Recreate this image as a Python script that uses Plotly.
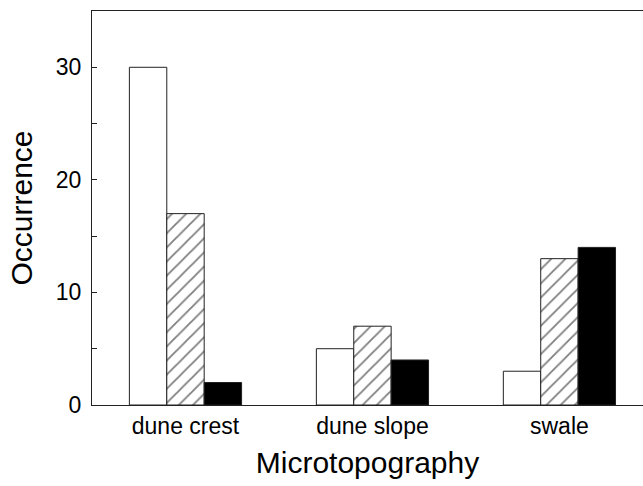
import plotly.graph_objects as go

categories = ["dune crest", "dune slope", "swale"]
open_vals = [30, 5, 3]
hatched_vals = [17, 7, 13]
solid_vals = [2, 4, 14]
y_ticks = [0, 10, 20, 30]

x = list(range(len(categories)))
edge = dict(color="#222", width=1)

fig = go.Figure()
fig.add_bar(x=x, y=open_vals, marker=dict(color="white", line=edge), name="open")
fig.add_bar(x=x, y=hatched_vals,
            marker=dict(color="white", line=edge,
                        pattern=dict(shape="/", size=10, solidity=0.18, fgcolor="black", bgcolor="white")),
            name="hatched")
fig.add_bar(x=x, y=solid_vals, marker=dict(color="black", line=edge), name="solid")

fig.update_layout(
    width=643, height=486,
    margin=dict(l=92, r=0, t=11, b=81),
    barmode="group", bargap=0.4, bargroupgap=0,
    plot_bgcolor="white", paper_bgcolor="white",
    showlegend=False,
    font=dict(family="Liberation Sans, Arial, sans-serif", color="black"),
)
fig.update_xaxes(
    tickmode="array", tickvals=x, ticktext=categories,
    range=[-0.5, 2.447],
    showline=True, linecolor="#222", linewidth=1, mirror=True,
    ticks="", showgrid=False, zeroline=False,
    tickfont=dict(size=23),
    title=dict(text="Microtopography", font=dict(size=30), standoff=14),
)
fig.update_yaxes(
    tickmode="array", tickvals=y_ticks,
    range=[0, 35],
    showline=True, linecolor="#222", linewidth=1,
    ticks="inside", ticklen=5, tickcolor="#222",
    minor=dict(ticks="inside", dtick=5, ticklen=5, tickcolor="#222", showgrid=False),
    showgrid=False, zeroline=False,
    tickfont=dict(size=23), ticklabelstandoff=5,
    title=dict(text="Occurrence", font=dict(size=30), standoff=14),
)
fig.write_html("out.html")
